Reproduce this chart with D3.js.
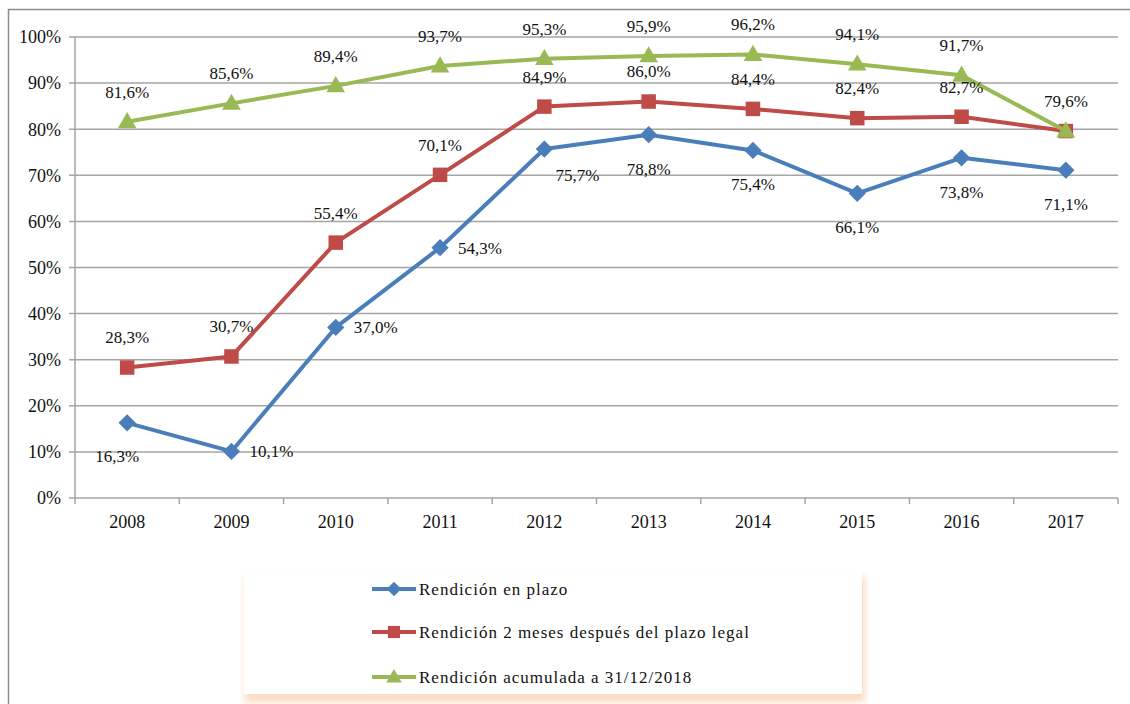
<!DOCTYPE html>
<html>
<head>
<meta charset="utf-8">
<script src="https://cdn.jsdelivr.net/npm/d3@7"></script>
<style>
  body { margin: 0; background: #fff; }
  svg text { font-family: 'Liberation Serif', 'DejaVu Serif', serif; fill: #111; }
</style>
</head>
<body>
<script>
// datos
const years = ["2008", "2009", "2010", "2011", "2012", "2013", "2014", "2015", "2016", "2017"];
const enPlazo = [16.3, 10.1, 37.0, 54.3, 75.7, 78.8, 75.4, 66.1, 73.8, 71.1];
const dosMeses = [28.3, 30.7, 55.4, 70.1, 84.9, 86.0, 84.4, 82.4, 82.7, 79.6];
const acumulada = [81.6, 85.6, 89.4, 93.7, 95.3, 95.9, 96.2, 94.1, 91.7, 79.6];
const yTicks = [0, 10, 20, 30, 40, 50, 60, 70, 80, 90, 100];
const seriesNames = ["Rendición en plazo", "Rendición 2 meses después del plazo legal", "Rendición acumulada a 31/12/2018"];

const W = 1130, H = 704;
const svg = d3.select("body").append("svg")
    .attr("width", W)
    .attr("height", H);

const defs = svg.append("defs");
const f = defs.append("filter").attr("id", "legShadow")
    .attr("x", "-5%").attr("y", "-10%").attr("width", "110%").attr("height", "130%");
f.append("feGaussianBlur").attr("stdDeviation", 3);

// marco exterior
svg.append("path")
    .attr("d", `M 8.5 ${H} L 8.5 9.5 L ${W} 9.5`)
    .attr("fill", "none")
    .attr("stroke", "#8c8c8c")
    .attr("stroke-width", 1.5);

const x = d3.scaleBand().domain(years).range([75, 1118]);
const y = d3.scaleLinear().domain([0, 100]).range([498, 37]);
const cx = d => x(d) + x.bandwidth() / 2;

const fmt = v => d3.format(".1f")(v).replace(".", ",") + "%";

// rejilla
svg.append("g").selectAll("line")
    .data(yTicks)
    .join("line")
    .attr("x1", 69).attr("x2", 1118)
    .attr("y1", d => y(d)).attr("y2", d => y(d))
    .attr("stroke", "#a5a5a5")
    .attr("stroke-width", 1.5);

// eje y
svg.append("line")
    .attr("x1", 75).attr("x2", 75)
    .attr("y1", y(100)).attr("y2", y(0))
    .attr("stroke", "#a5a5a5").attr("stroke-width", 1.5);

svg.append("g").selectAll("text")
    .data(yTicks)
    .join("text")
    .attr("x", 61)
    .attr("y", d => y(d))
    .attr("dy", "0.35em")
    .attr("text-anchor", "end")
    .style("font-size", "18px")
    .text(d => d + "%");

// eje x
const xAxis = svg.append("g");
xAxis.selectAll("line")
    .data(d3.range(years.length + 1))
    .join("line")
    .attr("x1", i => 75 + i * x.step())
    .attr("x2", i => 75 + i * x.step())
    .attr("y1", y(0)).attr("y2", y(0) + 6)
    .attr("stroke", "#a5a5a5").attr("stroke-width", 1.5);

xAxis.selectAll("text")
    .data(years)
    .join("text")
    .attr("x", d => cx(d))
    .attr("y", 522)
    .attr("dy", "0.35em")
    .attr("text-anchor", "middle")
    .style("font-size", "18px")
    .text(d => d);

const series = [
    { name: seriesNames[0], values: enPlazo, color: "#4a7ebb", shape: d3.symbolDiamond2, size: 190 },
    { name: seriesNames[1], values: dosMeses, color: "#be4b48", shape: d3.symbolSquare, size: 210 },
    { name: seriesNames[2], values: acumulada, color: "#98b954", shape: d3.symbolTriangle, size: 150 }
];

// posición de etiquetas (copiada del original)
const bluePos = ["bl", "r", "r", "r", "br", "b", "b", "b", "b", "b"];
const offsets = {
    t: [0, -30], b: [0, 34], r: [40, 0], bl: [-10, 33], br: [33, 26]
};

const line = d3.line().x((v, i) => cx(years[i])).y(v => y(v));

series.forEach((s, si) => {
    const g = svg.append("g");
    g.append("path")
        .attr("d", line(s.values))
        .attr("fill", "none")
        .attr("stroke", s.color)
        .attr("stroke-width", 4)
        .attr("stroke-linejoin", "round");

    g.selectAll("path.mk")
        .data(s.values)
        .join("path")
        .attr("class", "mk")
        .attr("d", d3.symbol(s.shape, s.size))
        .attr("transform", (v, i) => `translate(${cx(years[i])},${y(v) + (si == 2 ? 1 : 0)})`)
        .attr("fill", s.color);
});

series.forEach((s, si) => {
    // en 2017 la etiqueta roja coincide con la verde, solo se ve una
    const vals = s.values.map((v, i) => ({ v, i }))
        .filter(d => !(si == 1 && d.i == years.length - 1));
    svg.append("g").selectAll("text")
        .data(vals)
        .join("text")
        .attr("x", d => cx(years[d.i]) + offsets[si == 0 ? bluePos[d.i] : "t"][0])
        .attr("y", d => y(d.v) + offsets[si == 0 ? bluePos[d.i] : "t"][1])
        .attr("dy", "0.35em")
        .attr("text-anchor", "middle")
        .style("font-size", "17px")
        .text(d => fmt(d.v));
});

// leyenda
const leg = svg.append("g");
leg.append("rect")
    .attr("x", 245).attr("y", 576)
    .attr("width", 620).attr("height", 126)
    .attr("fill", "#fbd3b3")
    .attr("opacity", 0.8)
    .attr("filter", "url(#legShadow)");
leg.append("rect")
    .attr("x", 244).attr("y", 572)
    .attr("width", 618).attr("height", 122)
    .attr("fill", "#fff");

const legY = [589, 632, 677];
series.forEach((s, i) => {
    const item = leg.append("g").attr("transform", `translate(0,${legY[i]})`);
    item.append("line")
        .attr("x1", 372).attr("x2", 416)
        .attr("stroke", s.color).attr("stroke-width", 4);
    item.append("path")
        .attr("d", d3.symbol(s.shape, s.size * 0.7))
        .attr("transform", `translate(394,${i == 2 ? 1 : 0})`)
        .attr("fill", s.color);
    item.append("text")
        .attr("x", 419)
        .attr("dy", "0.35em")
        .style("font-size", "17px")
        .style("letter-spacing", "1px")
        .text(s.name);
});
</script>
</body>
</html>
